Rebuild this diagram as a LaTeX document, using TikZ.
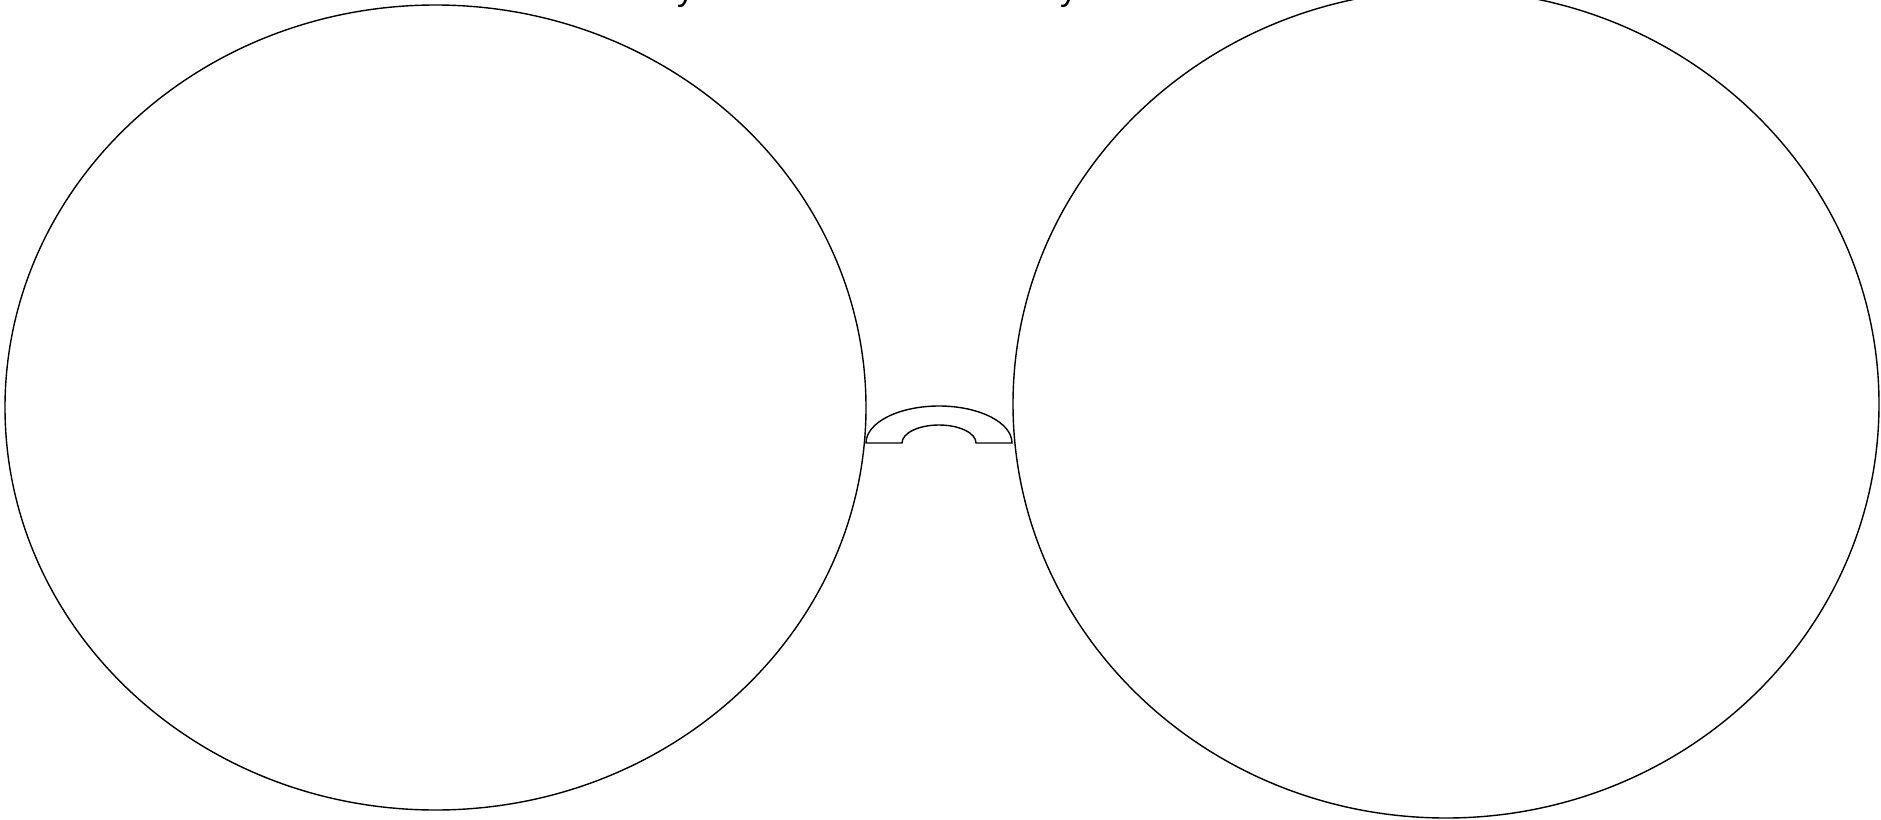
\documentclass[tikz,border=0pt]{standalone}
\usepackage{fontspec}
\setmainfont{Liberation Sans}
\usetikzlibrary{shapes.geometric}
\tikzset{
  bigoval/.style={draw, ellipse, line width=1.4pt, inner sep=0pt, outer sep=0pt},
  arch/.style={draw, line width=1.4pt, line join=miter},
  cutlabel/.style={anchor=base west, inner sep=0pt, font=\fontsize{34}{40}\selectfont}
}
\begin{document}
\begin{tikzpicture}[x=1pt, y=-1pt]
\useasboundingbox (0,0) rectangle (1881,819);
\clip (0,0) rectangle (1881,819);
% two large ovals
\node[bigoval, minimum width=861pt, minimum height=805pt] (L) at (435.5,407.5) {};
\node[bigoval, minimum width=866pt, minimum height=828pt] (R) at (1446,404) {};
% cut-off labels above the picture
\node[cutlabel] (t1) at (677,1) {y};
\node[cutlabel] (t2) at (1060,1) {y};
% arch between the ovals
\coordinate (A) at (939,443);
\draw[arch] ([xshift=-73pt]A) arc[start angle=180, end angle=0, x radius=73pt, y radius=37pt]
  -- ([xshift=37pt]A) arc[start angle=0, end angle=180, x radius=37pt, y radius=18pt]
  -- cycle;
\end{tikzpicture}
\end{document}
